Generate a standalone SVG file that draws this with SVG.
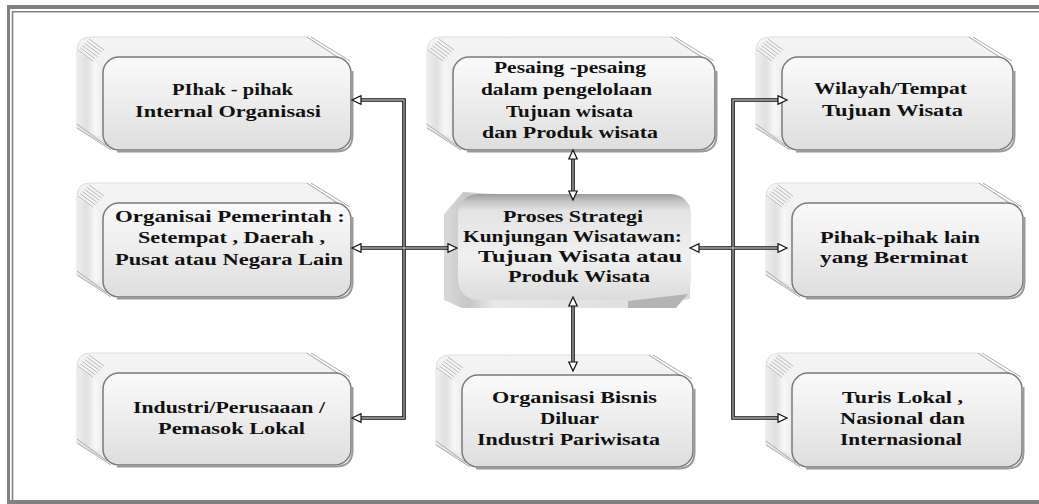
<svg xmlns="http://www.w3.org/2000/svg" width="1039" height="504" viewBox="0 0 1039 504">
<style>
.t{font-family:"Liberation Serif","Times New Roman",serif;font-weight:bold;font-size:16px;fill:#111}
.sil{fill:url(#gTop);stroke:#d4d4d4;stroke-width:0.8}
.side{fill:url(#gSide)}
.hatch{stroke:#a0a0a0;stroke-width:0.7;fill:none}
.edge{stroke:#ababab;stroke-width:1;fill:none}
.front{fill:url(#gFront);stroke:#7a7a7a;stroke-width:1.5}
.shadow{fill:none;stroke:#9a9a9a;stroke-width:2}
.lo{fill:none;stroke:#111;stroke-width:3.6}
.li{fill:none;stroke:#b0b0b0;stroke-width:1.3}
.ah{fill:#fff;stroke:#111;stroke-width:1.2}
</style>
<defs>
<linearGradient id="gFront" x1="0" y1="0" x2="0" y2="1">
<stop offset="0" stop-color="#fafafa"/><stop offset="0.45" stop-color="#eeeeee"/><stop offset="1" stop-color="#dedede"/>
</linearGradient>
<linearGradient id="gTop" x1="0" y1="0" x2="0" y2="1">
<stop offset="0" stop-color="#f4f4f4"/><stop offset="1" stop-color="#e8e8e8"/>
</linearGradient>
<linearGradient id="gSide" x1="0" y1="0" x2="1" y2="0">
<stop offset="0" stop-color="#eeeeee"/><stop offset="0.35" stop-color="#e0e0e0"/><stop offset="0.65" stop-color="#f8f8f8"/><stop offset="1" stop-color="#e8e8e8"/>
</linearGradient>
<linearGradient id="gCenter" x1="0" y1="0" x2="0" y2="1">
<stop offset="0" stop-color="#9c9c9c"/><stop offset="0.07" stop-color="#c4c4c4"/><stop offset="0.16" stop-color="#e4e4e4"/><stop offset="0.6" stop-color="#f0f0f0"/><stop offset="1" stop-color="#dcdcdc"/>
</linearGradient>
<linearGradient id="gBevel" x1="0" y1="0" x2="1" y2="0">
<stop offset="0" stop-color="#dadada"/><stop offset="0.1" stop-color="#c6c6c6"/><stop offset="0.2" stop-color="#e8e8e8"/><stop offset="1" stop-color="#dcdcdc"/>
</linearGradient>
<path id="ah" d="M0,0 L-9,-4.2 L-9,4.2 Z"/>
</defs>

<g id="frame">
<rect x="7" y="5" width="1032" height="4" fill="#808080"/>
<rect x="7" y="5" width="3" height="499" fill="#808080"/>
<rect x="7" y="500" width="1032" height="4" fill="#808080"/>
<path d="M12.5,504 L12.5,11.8 L1039,11.8" fill="none" stroke="#808080" stroke-width="1.6"/>
</g>

<g id="node-internal">
<g transform="translate(103,57)">
<path class="sil" d="M-26,-6 Q-26,-20 -12,-20 L204,-20 L246,8 L246,81 L12,93 L-26,71 Z"/>
<path class="side" d="M-26,-6 L2,12 L2,81 L-26,71 Z"/>
<path class="hatch" d="M-25,-7 l15,11 M-22.8,-9.2 l15,11 M-20.6,-11.4 l15,11 M-18.4,-13.6 l15,11 M-16.2,-15.8 l15,11 M-14,-18 l15,11"/>
<path class="edge" d="M204,-20 L244,6 M208,-20 L247,4 M-26,71 L8,93 M-26,67 L4,89"/>
<rect class="front" x="0" y="0" width="248" height="93" rx="16"/>
<path class="shadow" d="M249.5,14 L249.5,78 Q249.5,94.5 233,94.5 L14,94.5"/>
</g>
<text class="t" x="172" y="95" textLength="121" lengthAdjust="spacingAndGlyphs">PIhak - pihak</text>
<text class="t" x="135" y="117" textLength="186" lengthAdjust="spacingAndGlyphs">Internal  Organisasi</text>
</g>

<g id="node-pesaing">
<g transform="translate(453,57)">
<path class="sil" d="M-26,-6 Q-26,-20 -12,-20 L218,-20 L260,8 L260,81 L12,93 L-26,71 Z"/>
<path class="side" d="M-26,-6 L2,12 L2,81 L-26,71 Z"/>
<path class="hatch" d="M-25,-7 l15,11 M-22.8,-9.2 l15,11 M-20.6,-11.4 l15,11 M-18.4,-13.6 l15,11 M-16.2,-15.8 l15,11 M-14,-18 l15,11"/>
<path class="edge" d="M218,-20 L258,6 M222,-20 L261,4 M-26,71 L8,93 M-26,67 L4,89"/>
<rect class="front" x="0" y="0" width="262" height="93" rx="16"/>
<path class="shadow" d="M263.5,14 L263.5,78 Q263.5,94.5 247,94.5 L14,94.5"/>
</g>
<text class="t" x="494" y="73" textLength="152" lengthAdjust="spacingAndGlyphs">Pesaing -pesaing</text>
<text class="t" x="481" y="95" textLength="171" lengthAdjust="spacingAndGlyphs">dalam pengelolaan</text>
<text class="t" x="506" y="117" textLength="127" lengthAdjust="spacingAndGlyphs">Tujuan wisata</text>
<text class="t" x="482" y="138" textLength="176" lengthAdjust="spacingAndGlyphs">dan  Produk wisata</text>
</g>

<g id="node-wilayah">
<g transform="translate(782,57)">
<path class="sil" d="M-26,-6 Q-26,-20 -12,-20 L187,-20 L229,8 L229,81 L12,93 L-26,71 Z"/>
<path class="side" d="M-26,-6 L2,12 L2,81 L-26,71 Z"/>
<path class="hatch" d="M-25,-7 l15,11 M-22.8,-9.2 l15,11 M-20.6,-11.4 l15,11 M-18.4,-13.6 l15,11 M-16.2,-15.8 l15,11 M-14,-18 l15,11"/>
<path class="edge" d="M187,-20 L227,6 M191,-20 L230,4 M-26,71 L8,93 M-26,67 L4,89"/>
<rect class="front" x="0" y="0" width="231" height="93" rx="16"/>
<path class="shadow" d="M232.5,14 L232.5,78 Q232.5,94.5 216,94.5 L14,94.5"/>
</g>
<text class="t" x="814" y="94" textLength="153" lengthAdjust="spacingAndGlyphs">Wilayah/Tempat</text>
<text class="t" x="822" y="116" textLength="141" lengthAdjust="spacingAndGlyphs">Tujuan  Wisata</text>
</g>

<g id="node-pemerintah">
<g transform="translate(103,203)">
<path class="sil" d="M-26,-6 Q-26,-20 -12,-20 L204,-20 L246,8 L246,82 L12,94 L-26,72 Z"/>
<path class="side" d="M-26,-6 L2,12 L2,82 L-26,72 Z"/>
<path class="hatch" d="M-25,-7 l15,11 M-22.8,-9.2 l15,11 M-20.6,-11.4 l15,11 M-18.4,-13.6 l15,11 M-16.2,-15.8 l15,11 M-14,-18 l15,11"/>
<path class="edge" d="M204,-20 L244,6 M208,-20 L247,4 M-26,72 L8,94 M-26,68 L4,90"/>
<rect class="front" x="0" y="0" width="248" height="94" rx="16"/>
<path class="shadow" d="M249.5,14 L249.5,79 Q249.5,95.5 233,95.5 L14,95.5"/>
</g>
<text class="t" x="115" y="222" textLength="230" lengthAdjust="spacingAndGlyphs">Organisai  Pemerintah :</text>
<text class="t" x="138" y="243" textLength="187" lengthAdjust="spacingAndGlyphs">Setempat ,  Daerah ,</text>
<text class="t" x="115" y="265" textLength="228" lengthAdjust="spacingAndGlyphs">Pusat  atau  Negara Lain</text>
</g>

<g id="node-proses">
<path d="M463,192 L444,214 L444,300 L462,308 L632,308 L690,299 L690,205 Z" fill="url(#gBevel)"/>
<rect x="458" y="194" width="233" height="106" rx="20" fill="url(#gCenter)"/>
<path d="M628,301 L688,294 L676,308 L628,308 Z" fill="#b4b4b4"/>
<text class="t" x="503" y="222" textLength="140" lengthAdjust="spacingAndGlyphs">Proses Strategi</text>
<text class="t" x="463" y="242" textLength="219" lengthAdjust="spacingAndGlyphs">Kunjungan Wisatawan:</text>
<text class="t" x="478" y="262" textLength="204" lengthAdjust="spacingAndGlyphs">Tujuan Wisata  atau</text>
<text class="t" x="508" y="282" textLength="142" lengthAdjust="spacingAndGlyphs">Produk Wisata</text>
</g>

<g id="node-lain">
<g transform="translate(792,203)">
<path class="sil" d="M-26,-6 Q-26,-20 -12,-20 L187,-20 L229,8 L229,82 L12,94 L-26,72 Z"/>
<path class="side" d="M-26,-6 L2,12 L2,82 L-26,72 Z"/>
<path class="hatch" d="M-25,-7 l15,11 M-22.8,-9.2 l15,11 M-20.6,-11.4 l15,11 M-18.4,-13.6 l15,11 M-16.2,-15.8 l15,11 M-14,-18 l15,11"/>
<path class="edge" d="M187,-20 L227,6 M191,-20 L230,4 M-26,72 L8,94 M-26,68 L4,90"/>
<rect class="front" x="0" y="0" width="231" height="94" rx="16"/>
<path class="shadow" d="M232.5,14 L232.5,79 Q232.5,95.5 216,95.5 L14,95.5"/>
</g>
<text class="t" x="820" y="243" textLength="160" lengthAdjust="spacingAndGlyphs">Pihak-pihak lain</text>
<text class="t" x="820" y="263" textLength="148" lengthAdjust="spacingAndGlyphs">yang Berminat</text>
</g>

<g id="node-industri">
<g transform="translate(103,373)">
<path class="sil" d="M-26,-6 Q-26,-20 -12,-20 L204,-20 L246,8 L246,80 L12,92 L-26,70 Z"/>
<path class="side" d="M-26,-6 L2,12 L2,80 L-26,70 Z"/>
<path class="hatch" d="M-25,-7 l15,11 M-22.8,-9.2 l15,11 M-20.6,-11.4 l15,11 M-18.4,-13.6 l15,11 M-16.2,-15.8 l15,11 M-14,-18 l15,11"/>
<path class="edge" d="M204,-20 L244,6 M208,-20 L247,4 M-26,70 L8,92 M-26,66 L4,88"/>
<rect class="front" x="0" y="0" width="248" height="92" rx="16"/>
<path class="shadow" d="M249.5,14 L249.5,77 Q249.5,93.5 233,93.5 L14,93.5"/>
</g>
<text class="t" x="133" y="413" textLength="192" lengthAdjust="spacingAndGlyphs">Industri/Perusaaan  /</text>
<text class="t" x="158" y="434" textLength="147" lengthAdjust="spacingAndGlyphs">Pemasok  Lokal</text>
</g>

<g id="node-bisnis">
<g transform="translate(462,375)">
<path class="sil" d="M-26,-6 Q-26,-20 -12,-20 L187,-20 L229,8 L229,80 L12,92 L-26,70 Z"/>
<path class="side" d="M-26,-6 L2,12 L2,80 L-26,70 Z"/>
<path class="hatch" d="M-25,-7 l15,11 M-22.8,-9.2 l15,11 M-20.6,-11.4 l15,11 M-18.4,-13.6 l15,11 M-16.2,-15.8 l15,11 M-14,-18 l15,11"/>
<path class="edge" d="M187,-20 L227,6 M191,-20 L230,4 M-26,70 L8,92 M-26,66 L4,88"/>
<rect class="front" x="0" y="0" width="231" height="92" rx="16"/>
<path class="shadow" d="M232.5,14 L232.5,77 Q232.5,93.5 216,93.5 L14,93.5"/>
</g>
<text class="t" x="492" y="403" textLength="165" lengthAdjust="spacingAndGlyphs">Organisasi  Bisnis</text>
<text class="t" x="540" y="424" textLength="59" lengthAdjust="spacingAndGlyphs">Diluar</text>
<text class="t" x="477" y="445" textLength="183" lengthAdjust="spacingAndGlyphs">Industri  Pariwisata</text>
</g>

<g id="node-turis">
<g transform="translate(792,373)">
<path class="sil" d="M-26,-6 Q-26,-20 -12,-20 L186,-20 L228,8 L228,82 L12,94 L-26,72 Z"/>
<path class="side" d="M-26,-6 L2,12 L2,82 L-26,72 Z"/>
<path class="hatch" d="M-25,-7 l15,11 M-22.8,-9.2 l15,11 M-20.6,-11.4 l15,11 M-18.4,-13.6 l15,11 M-16.2,-15.8 l15,11 M-14,-18 l15,11"/>
<path class="edge" d="M186,-20 L226,6 M190,-20 L229,4 M-26,72 L8,94 M-26,68 L4,90"/>
<rect class="front" x="0" y="0" width="230" height="94" rx="16"/>
<path class="shadow" d="M231.5,14 L231.5,79 Q231.5,95.5 215,95.5 L14,95.5"/>
</g>
<text class="t" x="842" y="403" textLength="121" lengthAdjust="spacingAndGlyphs">Turis  Lokal ,</text>
<text class="t" x="840" y="424" textLength="125" lengthAdjust="spacingAndGlyphs">Nasional  dan</text>
<text class="t" x="840" y="445" textLength="122" lengthAdjust="spacingAndGlyphs">Internasional</text>
</g>

<g id="connectors">
<path class="lo" d="M360,100 L404,100 L404,418 L360,418 M360,248 L448,248 M699,248 L778,248 M778,100 L733,100 L733,418 L778,418 M573,159 L573,191 M573,306 L573,362"/>
<path class="li" d="M360,100 L404,100 L404,418 L360,418 M360,248 L448,248 M699,248 L778,248 M778,100 L733,100 L733,418 L778,418 M573,159 L573,191 M573,306 L573,362"/>
<use href="#ah" class="ah" transform="translate(352,100) rotate(180)"/>
<use href="#ah" class="ah" transform="translate(352,248) rotate(180)"/>
<use href="#ah" class="ah" transform="translate(352,418) rotate(180)"/>
<use href="#ah" class="ah" transform="translate(457,248)"/>
<use href="#ah" class="ah" transform="translate(690,248) rotate(180)"/>
<use href="#ah" class="ah" transform="translate(787,248)"/>
<use href="#ah" class="ah" transform="translate(787,100)"/>
<use href="#ah" class="ah" transform="translate(787,418)"/>
<use href="#ah" class="ah" transform="translate(573,150) rotate(-90)"/>
<use href="#ah" class="ah" transform="translate(573,200) rotate(90)"/>
<use href="#ah" class="ah" transform="translate(573,297) rotate(-90)"/>
<use href="#ah" class="ah" transform="translate(573,371) rotate(90)"/>
</g>
</svg>
